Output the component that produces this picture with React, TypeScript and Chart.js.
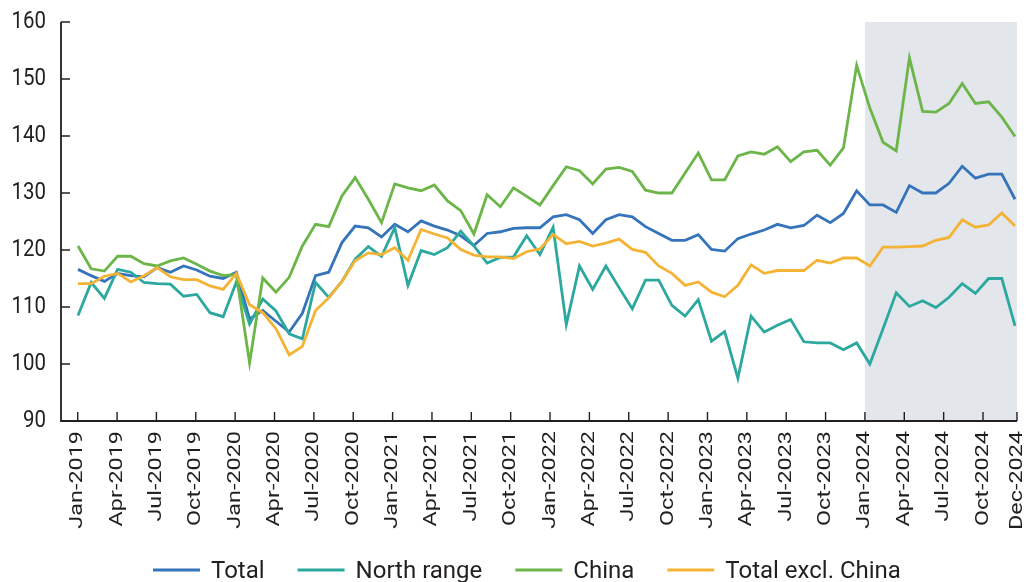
import React, { useEffect, useRef } from 'react';
import { Chart, registerables } from 'chart.js';

Chart.register(...registerables);

// Monthly index values, Jan-2019 .. Dec-2024
const TOTAL = [
  116.6, 115.5, 114.5, 115.9, 115.5, 115.3, 116.9, 116.1, 117.2, 116.5, 115.4, 115.0,
  116.1, 107.9, 109.4, 107.5, 105.6, 108.9, 115.5, 116.1, 121.3, 124.2, 123.9, 122.3,
  124.5, 123.2, 125.1, 124.2, 123.5, 122.5, 120.8, 122.9, 123.2, 123.8, 123.9, 123.9,
  125.8, 126.2, 125.3, 122.9, 125.3, 126.2, 125.8, 124.1, 122.9, 121.7, 121.7, 122.7,
  120.1, 119.8, 122.0, 122.8, 123.5, 124.5, 123.9, 124.3, 126.1, 124.8, 126.4, 130.4,
  127.9, 127.9, 126.6, 131.3, 130.0, 130.0, 131.7, 134.7, 132.6, 133.3, 133.3, 128.9,
];

const NORTH_RANGE = [
  108.5, 114.3, 111.5, 116.6, 116.1, 114.3, 114.1, 114.0, 111.9, 112.2, 109.0, 108.3,
  114.4, 107.0, 111.4, 109.3, 105.3, 104.4, 114.3, 111.7, 114.5, 118.4, 120.6, 118.9,
  123.9, 113.8, 119.9, 119.2, 120.4, 123.3, 120.7, 117.7, 118.7, 118.8, 122.5, 119.2,
  124.0, 106.9, 117.2, 113.1, 117.2, 113.4, 109.7, 114.7, 114.7, 110.3, 108.4, 111.3,
  104.0, 105.7, 97.5, 108.4, 105.6, 106.8, 107.8, 103.9, 103.7, 103.7, 102.5, 103.7,
  100.0, 106.2, 112.5, 110.1, 111.1, 109.9, 111.7, 114.1, 112.4, 115.0, 115.0, 106.7,
];

const CHINA = [
  120.7, 116.7, 116.3, 118.9, 118.9, 117.6, 117.2, 118.1, 118.6, 117.5, 116.3, 115.5,
  115.7, 100.2, 115.1, 112.6, 115.2, 120.7, 124.5, 124.1, 129.5, 132.7, 128.9, 124.8,
  131.6, 130.9, 130.4, 131.4, 128.6, 126.9, 122.8, 129.7, 127.6, 130.9, 129.4, 127.9,
  131.3, 134.6, 133.9, 131.6, 134.2, 134.5, 133.8, 130.5, 130.0, 130.0, 133.5, 137.0,
  132.3, 132.3, 136.5, 137.2, 136.8, 138.1, 135.5, 137.2, 137.5, 134.9, 137.9, 152.4,
  144.9, 138.9, 137.4, 153.7, 144.3, 144.2, 145.7, 149.2, 145.7, 146.0, 143.3, 139.9,
];

const TOTAL_EXCL_CHINA = [
  114.1, 114.1, 115.4, 115.9, 114.4, 115.5, 116.9, 115.3, 114.8, 114.8, 113.7, 113.1,
  115.9, 110.4, 109.0, 106.2, 101.6, 103.1, 109.4, 111.6, 114.5, 118.1, 119.5, 119.2,
  120.4, 118.2, 123.6, 122.8, 122.1, 120.1, 119.1, 118.8, 118.8, 118.5, 119.7, 120.2,
  122.7, 121.1, 121.5, 120.7, 121.2, 121.9, 120.1, 119.6, 117.2, 115.9, 113.8, 114.4,
  112.6, 111.8, 113.8, 117.4, 115.9, 116.4, 116.4, 116.4, 118.2, 117.7, 118.6, 118.6,
  117.2, 120.5, 120.5, 120.6, 120.7, 121.7, 122.2, 125.3, 124.0, 124.4, 126.5, 124.2,
];

const SERIES = [TOTAL, NORTH_RANGE, CHINA, TOTAL_EXCL_CHINA];
const SERIES_NAMES = ['Total', 'North range', 'China', 'Total excl. China'];
const SERIES_COLORS = ['#3574ba', '#2ca89f', '#6cb548', '#f5b335'];

// Quarterly axis labels (one every three months), plus the closing month
const TICK_LABELS = [
  'Jan-2019', 'Apr-2019', 'Jul-2019', 'Oct-2019',
  'Jan-2020', 'Apr-2020', 'Jul-2020', 'Oct-2020',
  'Jan-2021', 'Apr-2021', 'Jul-2021', 'Oct-2021',
  'Jan-2022', 'Apr-2022', 'Jul-2022', 'Oct-2022',
  'Jan-2023', 'Apr-2023', 'Jul-2023', 'Oct-2023',
  'Jan-2024', 'Apr-2024', 'Jul-2024', 'Oct-2024',
];
const END_LABEL = 'Dec-2024';
const Y_TICKS = [90, 100, 110, 120, 130, 140, 150, 160];
const SHADED_FROM = 'Jan-2024';

const INK = '#231f20';
const SHADE = '#e3e6eb';
const FONT = 'Roboto, "Noto Sans", sans-serif';

const decor = {
  id: 'decor',
  beforeDatasetsDraw(chart: any) {
    const { ctx, chartArea: a } = chart;
    const months = chart.scales.months;
    const x0 = months.getPixelForValue(TICK_LABELS.indexOf(SHADED_FROM) * 3);
    ctx.save();
    ctx.fillStyle = SHADE;
    ctx.fillRect(x0, a.top, a.right - x0, a.bottom - a.top);
    ctx.restore();
  },
  afterDatasetsDraw(chart: any) {
    const { ctx, chartArea: a } = chart;
    const y = chart.scales.y;
    const months = chart.scales.months;
    const tickXs = TICK_LABELS.map((_, k) => months.getPixelForValue(k * 3));
    tickXs.push(a.right);
    const tickTexts = [...TICK_LABELS, END_LABEL];

    ctx.save();
    // axis lines
    ctx.strokeStyle = INK;
    ctx.lineWidth = 1.8;
    ctx.beginPath();
    ctx.moveTo(a.left, a.top);
    ctx.lineTo(a.left, a.bottom);
    ctx.lineTo(a.right, a.bottom);
    ctx.stroke();

    // inward tick marks
    ctx.lineWidth = 1.4;
    ctx.beginPath();
    Y_TICKS.forEach((v) => {
      const py = y.getPixelForValue(v);
      ctx.moveTo(a.left, py);
      ctx.lineTo(a.left + 9, py);
    });
    tickXs.forEach((px) => {
      ctx.moveTo(px, a.bottom);
      ctx.lineTo(px, a.bottom - 9);
    });
    ctx.stroke();

    // value labels (slightly condensed face)
    ctx.fillStyle = INK;
    ctx.font = `22px ${FONT}`;
    ctx.textAlign = 'right';
    ctx.textBaseline = 'middle';
    Y_TICKS.forEach((v) => {
      ctx.save();
      ctx.translate(a.left - 15, y.getPixelForValue(v));
      ctx.scale(0.93, 1.08);
      ctx.fillText(String(v), 0, 0);
      ctx.restore();
    });

    // rotated month labels
    ctx.font = `18px ${FONT}`;
    tickTexts.forEach((t, k) => {
      ctx.save();
      ctx.translate(tickXs[k], a.bottom + 10);
      ctx.rotate(-Math.PI / 2);
      ctx.scale(1.3, 1);
      ctx.textAlign = 'right';
      ctx.textBaseline = 'middle';
      ctx.fillText(t, 0, 0);
      ctx.restore();
    });

    // legend row
    ctx.font = `24px ${FONT}`;
    ctx.textAlign = 'left';
    ctx.textBaseline = 'alphabetic';
    let lx = 153;
    const ly = 570;
    chart.data.datasets.forEach((ds: any) => {
      ctx.strokeStyle = ds.borderColor;
      ctx.lineWidth = 3;
      ctx.beginPath();
      ctx.moveTo(lx, ly);
      ctx.lineTo(lx + 47, ly);
      ctx.stroke();
      ctx.fillStyle = INK;
      ctx.fillText(ds.label, lx + 58, ly + 7.5);
      lx += 58 + ctx.measureText(ds.label).width + 33;
    });
    ctx.restore();
  },
};

export default function App() {
  const canvasRef = useRef<HTMLCanvasElement | null>(null);

  useEffect(() => {
    const canvas = canvasRef.current;
    if (!canvas) return;
    const chart = new Chart(canvas, {
      type: 'line',
      data: {
        datasets: SERIES.map((s, k) => ({
          label: SERIES_NAMES[k],
          data: s.map((v, i) => ({ x: i, y: v })),
          borderColor: SERIES_COLORS[k],
          backgroundColor: SERIES_COLORS[k],
          borderWidth: 2.8,
          pointRadius: 0,
          pointHoverRadius: 0,
          tension: 0,
          xAxisID: 'x',
          yAxisID: 'y',
          order: SERIES.length - k,
        })),
      },
      options: {
        animation: false,
        responsive: false,
        devicePixelRatio: 1,
        events: [],
        layout: { padding: { left: 61, top: 22, right: 11, bottom: 161 } },
        scales: {
          x: { type: 'linear', min: -1.288, max: 71.15, display: false },
          months: { type: 'linear', axis: 'x', position: 'bottom', min: -1.273, max: 71.59, display: false },
          y: { type: 'linear', min: 90, max: 160, display: false },
        },
        plugins: {
          legend: { display: false },
          tooltip: { enabled: false },
        },
      },
      plugins: [decor],
    });
    return () => chart.destroy();
  }, []);

  return (
    <div style={{ position: 'absolute', left: 0, top: 0, width: 1028, height: 582, background: '#fff' }}>
      <canvas ref={canvasRef} width={1028} height={582} style={{ display: 'block' }} />
    </div>
  );
}
